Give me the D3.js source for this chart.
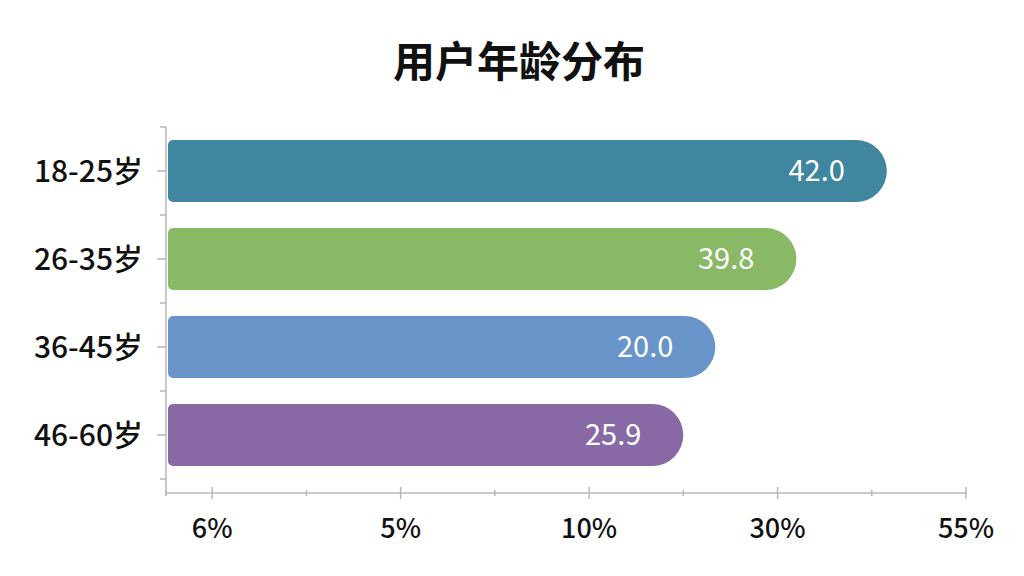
<!DOCTYPE html>
<head>
<meta charset="utf-8">
<style>
body { margin: 0; background: #fff; }
text { font-family: "Noto Sans CJK SC", "Noto Sans", sans-serif; }
.axis line, .axis path { stroke: #b8b8b8; stroke-width: 1.5px; fill: none; }
</style>
</head>
<body>
<script src="https://cdn.jsdelivr.net/npm/d3@7"></script>
<script>
var categories = ["18-25岁", "26-35岁", "36-45岁", "46-60岁"];
// bar length in axis tick units (tick 0 = first label)
var barLengths = [3.58, 3.10, 2.67, 2.50];
var valueLabels = ["42.0", "39.8", "20.0", "25.9"];
var tickLabels = ["6%", "5%", "10%", "30%", "55%"];
var colors = ["#40869f", "#89b964", "#6894c9", "#8869a6"];

var width = 1024, height = 576;

var svg = d3.select("body").append("svg")
  .attr("width", width)
  .attr("height", height);

var x = d3.scaleLinear()
  .domain([-0.245, 4])
  .range([166, 966]);

var y = d3.scaleBand()
  .domain(categories)
  .range([127, 479])
  .paddingInner(0.295)
  .paddingOuter(0.1475);

var axisY = 493;

// title
svg.append("text")
  .attr("x", 519)
  .attr("y", 77)
  .attr("text-anchor", "middle")
  .attr("font-size", 42)
  .attr("font-weight", "bold")
  .attr("fill", "#111")
  .text("用户年龄分布");

// x axis
var gx = svg.append("g").attr("class", "axis");
gx.append("line")
  .attr("x1", x.range()[0]).attr("x2", x(4))
  .attr("y1", axisY).attr("y2", axisY);

var major = d3.range(5);
var minor = [-0.245, 0.5, 1.5, 2.5, 3.5];

gx.selectAll(".major").data(major).enter().append("line")
  .attr("x1", function(d) { return x(d); })
  .attr("x2", function(d) { return x(d); })
  .attr("y1", axisY - 6).attr("y2", axisY + 6);

gx.selectAll(".minor").data(minor).enter().append("line")
  .attr("x1", function(d) { return x(d); })
  .attr("x2", function(d) { return x(d); })
  .attr("y1", axisY - 3).attr("y2", axisY + 3);

svg.selectAll(".xlab").data(major).enter().append("text")
  .attr("x", function(d) { return x(d); })
  .attr("y", 538)
  .attr("text-anchor", "middle")
  .attr("font-size", 27)
  .attr("font-weight", 500)
  .attr("fill", "#111")
  .text(function(d, i) { return tickLabels[i]; });

// y axis
var gy = svg.append("g").attr("class", "axis");
gy.append("line")
  .attr("x1", 166).attr("x2", 166)
  .attr("y1", y.range()[0]).attr("y2", axisY + 2);

var bounds = categories.map(function(c) { return y(c) + y.bandwidth() / 2 - y.step() / 2; });
bounds.push(bounds[bounds.length - 1] + y.step());

gy.selectAll(".ybound").data(bounds).enter().append("line")
  .attr("x1", 160).attr("x2", 166)
  .attr("y1", function(d) { return d; })
  .attr("y2", function(d) { return d; });

gy.selectAll(".ytick").data(categories).enter().append("line")
  .attr("x1", 157).attr("x2", 166)
  .attr("y1", function(d) { return y(d) + y.bandwidth() / 2; })
  .attr("y2", function(d) { return y(d) + y.bandwidth() / 2; });

svg.selectAll(".ylab").data(categories).enter().append("text")
  .attr("x", 143)
  .attr("y", function(d) { return y(d) + y.bandwidth() / 2; })
  .attr("dy", "0.36em")
  .attr("text-anchor", "end")
  .attr("font-size", 30)
  .attr("font-weight", 500)
  .attr("fill", "#111")
  .text(function(d) { return d; });

// bar with small left corners and a round right end
function barPath(x0, y0, x1, h) {
  var r = 5, R = h / 2;
  return "M" + (x0 + r) + "," + y0 +
    "H" + (x1 - R) +
    "A" + R + "," + R + " 0 0 1 " + (x1 - R) + "," + (y0 + h) +
    "H" + (x0 + r) +
    "A" + r + "," + r + " 0 0 1 " + x0 + "," + (y0 + h - r) +
    "V" + (y0 + r) +
    "A" + r + "," + r + " 0 0 1 " + (x0 + r) + "," + y0 + "Z";
}

svg.selectAll(".bar").data(categories).enter().append("path")
  .attr("fill", function(d, i) { return colors[i]; })
  .attr("d", function(d, i) {
    return barPath(168, y(d), x(barLengths[i]), y.bandwidth());
  });

svg.selectAll(".val").data(categories).enter().append("text")
  .attr("x", function(d, i) { return x(barLengths[i]) - 42; })
  .attr("y", function(d) { return y(d) + y.bandwidth() / 2; })
  .attr("dy", "0.36em")
  .attr("text-anchor", "end")
  .attr("font-size", 29)
  .attr("fill", "#fff")
  .text(function(d, i) { return valueLabels[i]; });
</script>
</body>
